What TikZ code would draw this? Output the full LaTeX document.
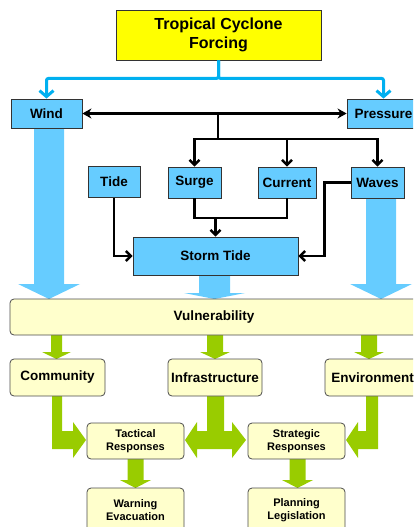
\documentclass[tikz,border=0pt]{standalone}
\usepackage{fontspec}
\setmainfont{Liberation Sans}
\usetikzlibrary{arrows.meta}
\definecolor{clrbox}{HTML}{66CCFF}
\definecolor{clrline}{HTML}{00B0F0}
\definecolor{clrtitle}{HTML}{FFFF00}
\definecolor{clrnote}{HTML}{FFFFCC}
\definecolor{clrgreen}{HTML}{99CC00}
\tikzset{
    MyBox/.style={draw=black!80,fill=clrbox,line width=0.8pt,inner sep=0pt,align=center,
    font=\fontsize{13.5}{16}\selectfont\bfseries},
    MyNote/.style={draw=black!70,fill=clrnote,line width=0.8pt,rounded corners=4pt,inner sep=0pt,
    align=center,font=\fontsize{13.5}{16}\selectfont\bfseries},
    MySmall/.style={MyNote,font=\fontsize{11}{13.5}\selectfont\bfseries}    }

\begin{document}
\begin{tikzpicture}[x=1pt,y=-1pt,
    link/.style={black,line width=2.5pt,-{Straight Barb[length=5pt,width=10pt]}},
    feed/.style={clrline,line width=3pt,rounded corners=2pt,-{Straight Barb[length=6pt,width=14pt]}}]
    \useasboundingbox (0,0) rectangle (413,527);
    \clip (0,0) rectangle (413,527);

    % wide blue arrows
    \fill[clrbox] (34,128) -- (64,128) -- (64,284) -- (80,284) -- (49,299) -- (18,284) -- (34,284) -- cycle;
    \fill[clrbox] (366,198) -- (396,198) -- (396,284) -- (412,284) -- (381,299) -- (350,284) -- (366,284) -- cycle;
    \fill[clrbox] (199,275) -- (230,275) -- (230,293) -- (245,293) -- (214.5,299) -- (184,293) -- (199,293) -- cycle;

    % wide green arrows
    \fill[clrgreen] (51,335) -- (62,335) -- (62,352) -- (71,352) -- (56.5,359) -- (42,352) -- (51,352) -- cycle;
    \fill[clrgreen] (207,335) -- (223,335) -- (223,352) -- (230,352) -- (215,359) -- (200,352) -- (207,352) -- cycle;
    \fill[clrgreen] (361,335) -- (377,335) -- (377,352) -- (384,352) -- (369,359) -- (354,352) -- (361,352) -- cycle;
    \fill[clrgreen] (52,396) -- (62,396) -- (62,431) -- (73,431) -- (73,422) -- (86,440) -- (73,458) -- (73,449) -- (52,449) -- cycle;
    \fill[clrgreen] (207,396) -- (224,396) -- (224,431) -- (232,431) -- (232,422) -- (246,440) -- (232,458) -- (232,449)
        -- (197,449) -- (197,458) -- (185,440) -- (197,422) -- (197,431) -- (207,431) -- cycle;
    \fill[clrgreen] (366,396) -- (378,396) -- (378,449) -- (358,449) -- (358,458) -- (346,440) -- (358,422) -- (358,431) -- (366,431) -- cycle;
    \fill[clrgreen] (127.5,459) -- (143.5,459) -- (143.5,480) -- (151,480) -- (135.5,488) -- (120,480) -- (127.5,480) -- cycle;
    \fill[clrgreen] (289.5,459) -- (305.5,459) -- (305.5,480) -- (313,480) -- (297.5,488) -- (282,480) -- (289.5,480) -- cycle;

    % forcing
    \node[MyBox,fill=clrtitle,minimum width=205pt,minimum height=50pt,
        font=\fontsize{16}{19}\selectfont\bfseries] (title) at (218.5,35) {Tropical Cyclone\\Forcing};
    \node[MyBox,minimum width=71pt,minimum height=29pt] (wind) at (46.5,113.5) {Wind};
    \node[MyBox,minimum width=73pt,minimum height=29pt] (pres) at (383.5,113.5) {Pressure};
    \node[MyBox,minimum width=52pt,minimum height=31pt] (tide) at (114,182) {Tide};
    \node[MyBox,minimum width=53pt,minimum height=31pt] (surge) at (194.5,182.5) {Surge};
    \node[MyBox,minimum width=58pt,minimum height=31pt] (curr) at (287,182.5) {Current};
    \node[MyBox,minimum width=53pt,minimum height=31pt] (waves) at (377.5,182.5) {Waves};
    \node[MyBox,minimum width=165pt,minimum height=38pt] (storm) at (215.5,256) {Storm Tide};

    % vulnerability and responses
    \node[MyNote,minimum width=408pt,minimum height=36pt] (vul) at (214,317) {Vulnerability};
    \node[MyNote,minimum width=95pt,minimum height=37pt] (comm) at (57.5,377.5) {Community};
    \node[MyNote,minimum width=94pt,minimum height=37pt] (infra) at (215,377.5) {Infrastructure};
    \node[MyNote,minimum width=95pt,minimum height=37pt] (env) at (372.5,377.5) {Environment};
    \node[MySmall,minimum width=97pt,minimum height=36pt] (tact) at (135.5,441) {Tactical\\Responses};
    \node[MySmall,minimum width=97pt,minimum height=36pt] (strat) at (296.5,441) {Strategic\\Responses};
    \node[MySmall,minimum width=97pt,minimum height=44pt] (warn) at (135.5,510) {Warning\\Evacuation};
    \node[MySmall,minimum width=97pt,minimum height=44pt] (plan) at (296.5,510) {Planning\\Legislation};

    % connectors
    \draw[feed] (title.south) -- ++(0,18) -| (wind.north);
    \draw[feed] (title.south) -- ++(0,18) -| (pres.north);
    \draw[black,line width=2.5pt,{Stealth[length=9pt,width=10pt]}-{Stealth[length=9pt,width=10pt]}] (wind.east) -- (pres.west);
    \coordinate (hub) at (218,113.5);
    \coordinate (split) at (218,139);
    \draw[black,line width=2.5pt] (hub) -- (split);
    \draw[link] (split) -| (surge.north);
    \draw[link] (split) -| (curr.north);
    \draw[link] (split) -| (waves.north);
    \coordinate (mrg) at (215.5,218);
    \draw[black,line width=2.5pt] (surge.south) |- (mrg) -| (curr.south);
    \draw[link] (mrg) -- (storm.north);
    \draw[link] (tide.south) |- (storm.west);
    \draw[link] (waves.west) -- ++(-26,0) |- (storm.east);
\end{tikzpicture}
\end{document}
